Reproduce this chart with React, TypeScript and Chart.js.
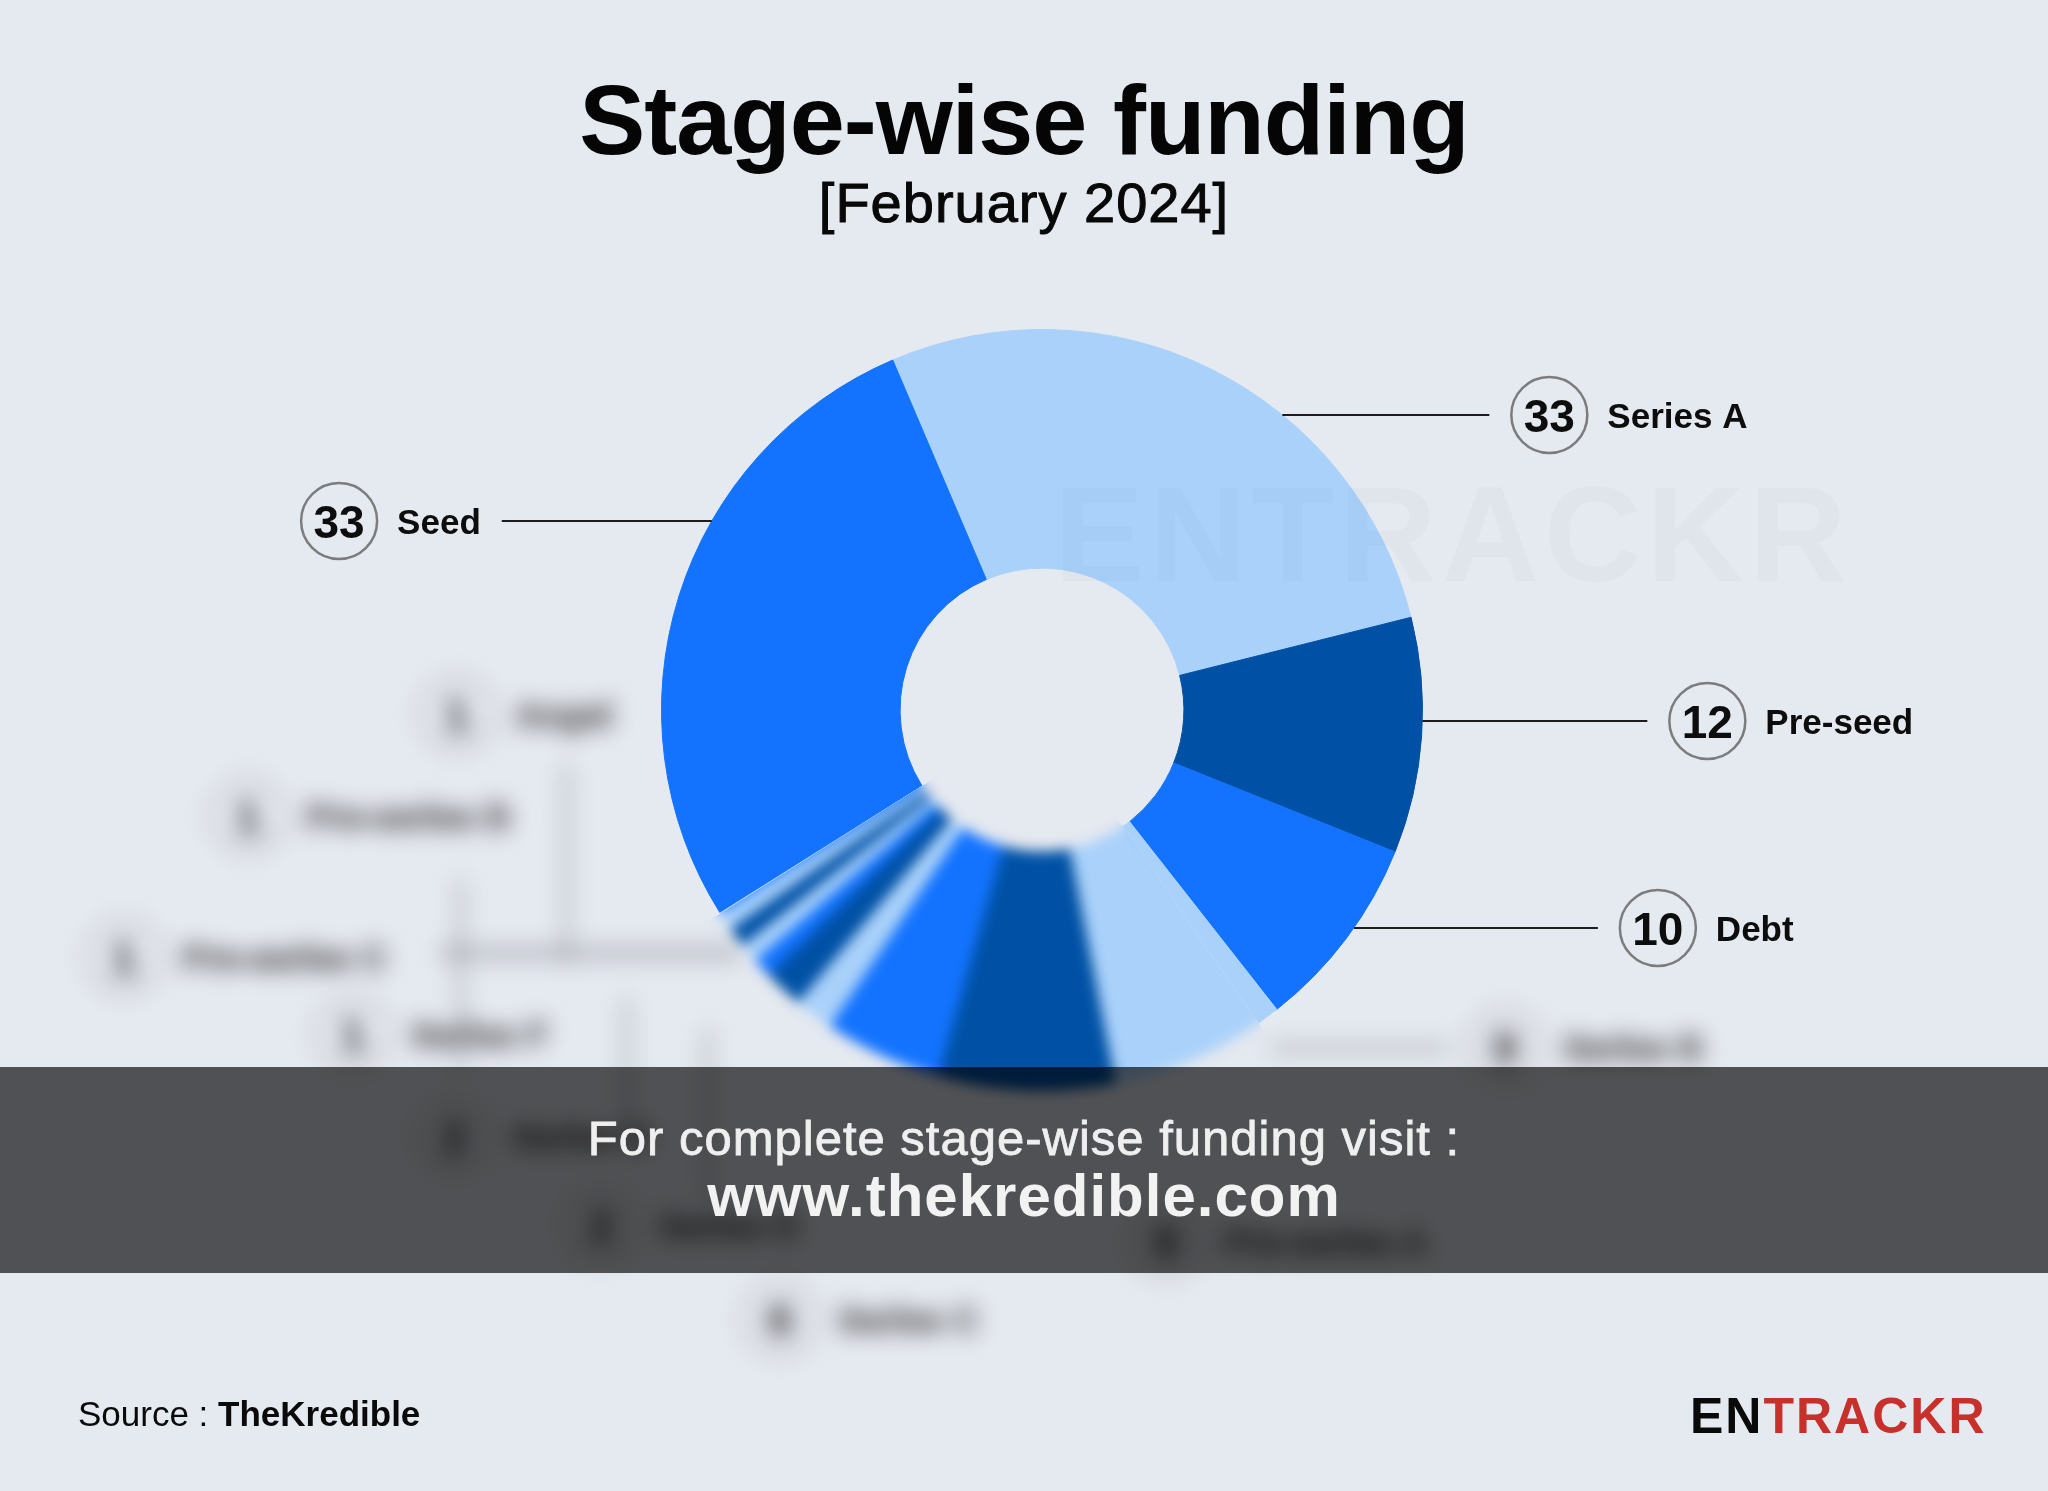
import React, { useEffect, useRef } from "react";
import { Chart, registerables } from "chart.js";

Chart.register(...registerables);

// ---------------- data ----------------
const stageNames = [
  "Series A",
  "Pre-seed",
  "Debt",
  "Series B",
  "Pre-series A",
  "Series C",
  "Series D",
  "Series E",
  "Series F",
  "Pre-series C",
  "Pre-series B",
  "Angel",
  "Seed",
];
const dealCounts = [33, 12, 10, 9, 9, 6, 2, 2, 1, 1, 1, 1, 33];
const calloutStages = ["Series A", "Pre-seed", "Debt", "Seed"];
const titleText = "Stage-wise funding";
const subtitleText = "[February 2024]";
const bandLine1 = "For complete stage-wise funding visit :";
const bandLine2 = "www.thekredible.com";
const sourceLabel = "Source : ";
const sourceName = "TheKredible";

// ---------------- styles / layout ----------------
const BG = "#e5e9f0";
const LIGHT = "#a9d1fa";
const DARK = "#0051a5";
const BLUE = "#1373fe";
const sliceColors = [LIGHT, DARK, BLUE, LIGHT, DARK, BLUE, LIGHT, DARK, BLUE, LIGHT, DARK, LIGHT, BLUE];
const FONT = '"Liberation Sans", Arial, Helvetica, sans-serif';

const calloutLayout = [
  { side: 1, lineY: 415, lineLength: 207 },
  { side: 1, lineY: 721, lineLength: 225 },
  { side: 1, lineY: 928, lineLength: 244 },
  { side: -1, lineY: 521, lineLength: 210 },
];

// blurred background labels (for the small slices, indices 3..11)
const blurredLayout = [
  { x: 1505, y: 1047 },
  { x: 1166, y: 1241 },
  { x: 780, y: 1319 },
  { x: 601, y: 1225 },
  { x: 454, y: 1136 },
  { x: 353, y: 1034 },
  { x: 124, y: 957 },
  { x: 248, y: 816 },
  { x: 457, y: 714 },
];
const blurredLines = [
  { x: 562, y: 765, w: 9, h: 200 },
  { x: 456, y: 880, w: 9, h: 190 },
  { x: 440, y: 945, w: 300, h: 16 },
  { x: 622, y: 1000, w: 9, h: 140 },
  { x: 703, y: 1030, w: 9, h: 170 },
  { x: 1270, y: 1043, w: 180, h: 10 },
];

const blurFrom = 3;
const blurTo = 11;

const blurPlugin = {
  id: "lowerBlur",
  afterDatasetsDraw(chart: any) {
    const arcs = chart.getDatasetMeta(0).data as any[];
    if (!arcs.length) return;
    const first = arcs[blurFrom];
    const last = arcs[blurTo];
    const cx = first.x;
    const cy = first.y;
    const R = first.outerRadius;
    const off = document.createElement("canvas");
    off.width = chart.canvas.width;
    off.height = chart.canvas.height;
    const octx = off.getContext("2d") as CanvasRenderingContext2D;
    arcs.forEach((a) => a.draw(octx));
    const ctx = chart.ctx as CanvasRenderingContext2D;
    ctx.save();
    ctx.setTransform(1, 0, 0, 1, 0, 0);
    ctx.beginPath();
    ctx.moveTo(cx, cy);
    ctx.arc(cx, cy, R + 80, first.startAngle + 0.06, last.endAngle - 0.004);
    ctx.closePath();
    ctx.clip();
    ctx.clearRect(0, 0, off.width, off.height);
    ctx.filter = "blur(6.5px)";
    ctx.drawImage(off, 0, 0);
    ctx.restore();
  },
};

const calloutPlugin = {
  id: "callouts",
  afterDraw(chart: any) {
    const ctx = chart.ctx as CanvasRenderingContext2D;
    const arcs = chart.getDatasetMeta(0).data as any[];
    calloutStages.forEach((stage, k) => {
      const c = calloutLayout[k];
      const i = stageNames.indexOf(stage);
      const arc = arcs[i];
      const R = arc.outerRadius;
      const dy = c.lineY - arc.y;
      const x0 = arc.x + c.side * Math.sqrt(Math.max(R * R - dy * dy, 0));
      const x1 = x0 + c.side * c.lineLength;
      ctx.save();
      ctx.strokeStyle = "#1c1c1c";
      ctx.lineWidth = 2;
      ctx.beginPath();
      ctx.moveTo(x0, c.lineY);
      ctx.lineTo(x1, c.lineY);
      ctx.stroke();
      ctx.font = "bold 35px " + FONT;
      const labelW = ctx.measureText(stage).width;
      let circleX: number;
      let textX: number;
      if (c.side > 0) {
        circleX = x1 + 60;
        textX = circleX + 58;
      } else {
        textX = x1 - 21 - labelW;
        circleX = textX - 58;
      }
      ctx.beginPath();
      ctx.arc(circleX, c.lineY, 38, 0, Math.PI * 2);
      ctx.strokeStyle = "#7c7c7c";
      ctx.lineWidth = 2.5;
      ctx.stroke();
      ctx.fillStyle = "#0d0d0d";
      ctx.textAlign = "left";
      ctx.textBaseline = "alphabetic";
      ctx.fillText(stage, textX, c.lineY + 12.5);
      ctx.font = "bold 46px " + FONT;
      ctx.textAlign = "center";
      ctx.fillText(String(dealCounts[i]), circleX, c.lineY + 16.5);
      ctx.restore();
    });
  },
};

function textTop(baseline: number, size: number) {
  return baseline - 0.8465 * size;
}

export default function App() {
  const ref = useRef<HTMLCanvasElement>(null);

  useEffect(() => {
    document.body.style.margin = "0";
    document.body.style.overflow = "hidden";
    const canvas = ref.current as HTMLCanvasElement;
    const chart = new Chart(canvas, {
      type: "doughnut",
      data: {
        labels: stageNames,
        datasets: [
          {
            data: dealCounts,
            backgroundColor: sliceColors,
            borderColor: sliceColors,
            borderWidth: 1,
            hoverOffset: 0,
            offset: 0,
          } as any,
        ],
      },
      options: {
        responsive: false,
        animation: false,
        devicePixelRatio: 1,
        rotation: -23.1,
        cutout: "37.3%",
        events: [],
        layout: { padding: { left: 661, right: 625, top: 329, bottom: 400 } },
        plugins: { legend: { display: false }, tooltip: { enabled: false } },
      } as any,
      plugins: [blurPlugin, calloutPlugin],
    });
    return () => chart.destroy();
  }, []);

  const abs: React.CSSProperties = { position: "absolute", whiteSpace: "nowrap" };

  return (
    <div
      style={{
        position: "relative",
        width: 2048,
        height: 1491,
        background: BG,
        overflow: "hidden",
        fontFamily: FONT,
      }}
    >
      <div
        style={{
          ...abs,
          left: 0,
          width: 2048,
          top: textTop(153.5, 99),
          textAlign: "center",
          fontSize: 99,
          lineHeight: "99px",
          fontWeight: 700,
          letterSpacing: -1,
          color: "#050505",
        }}
      >
        {titleText}
      </div>
      <div
        style={{
          ...abs,
          left: 0,
          width: 2048,
          top: textTop(222, 56),
          textAlign: "center",
          fontSize: 56,
          lineHeight: "56px",
          letterSpacing: 1,
          color: "#080808",
          WebkitTextStroke: "1px #080808",
        }}
      >
        {subtitleText}
      </div>

      {/* blurred background labels */}
      <div style={{ position: "absolute", left: 0, top: 0, width: 2048, height: 1491, filter: "blur(11px)" }}>
        {blurredLines.map((l, k) => (
          <div
            key={"l" + k}
            style={{ position: "absolute", left: l.x, top: l.y, width: l.w, height: l.h, background: "rgba(150,152,160,0.5)" }}
          />
        ))}
        {blurredLayout.map((p, k) => {
          const i = blurFrom + k;
          return (
            <React.Fragment key={"b" + k}>
              <div
                style={{
                  position: "absolute",
                  left: p.x - 38,
                  top: p.y - 38,
                  width: 76,
                  height: 76,
                  borderRadius: "50%",
                  border: "3px solid #a8a8ac",
                  boxSizing: "border-box",
                }}
              />
              <div
                style={{
                  ...abs,
                  left: p.x - 40,
                  width: 80,
                  textAlign: "center",
                  top: textTop(p.y + 16.5, 46),
                  fontSize: 46,
                  lineHeight: "46px",
                  fontWeight: 700,
                  color: "#6a6a6e",
                  WebkitTextStroke: "3px #6a6a6e",
                }}
              >
                {dealCounts[i]}
              </div>
              <div
                style={{
                  ...abs,
                  left: p.x + 58,
                  top: textTop(p.y + 12.5, 35),
                  fontSize: 35,
                  lineHeight: "35px",
                  fontWeight: 700,
                  color: "#7a7a7e",
                  WebkitTextStroke: "3px #7a7a7e",
                }}
              >
                {stageNames[i]}
              </div>
            </React.Fragment>
          );
        })}
      </div>

      <canvas
        ref={ref}
        width={2048}
        height={1491}
        style={{ position: "absolute", left: 0, top: 0, width: 2048, height: 1491 }}
      />

      {/* watermark */}
      <div
        style={{
          ...abs,
          left: 1054,
          top: textTop(581.7, 135),
          fontSize: 135,
          lineHeight: "135px",
          fontWeight: 700,
          letterSpacing: 5,
          color: "rgba(40,45,60,0.022)",
        }}
      >
        ENTRACKR
      </div>

      {/* band */}
      <div style={{ position: "absolute", left: 0, top: 1067, width: 2048, height: 206, background: "rgba(0,0,0,0.65)" }} />
      <div
        style={{
          ...abs,
          left: 0,
          width: 2048,
          top: textTop(1155, 49),
          textAlign: "center",
          fontSize: 49,
          lineHeight: "49px",
          letterSpacing: 1,
          color: "#efefef",
          WebkitTextStroke: "0.8px #efefef",
        }}
      >
        {bandLine1}
      </div>
      <div
        style={{
          ...abs,
          left: 0,
          width: 2048,
          top: textTop(1217, 60),
          textAlign: "center",
          fontSize: 60,
          lineHeight: "60px",
          fontWeight: 700,
          letterSpacing: 1,
          color: "#f2f2f2",
        }}
      >
        {bandLine2}
      </div>

      {/* footer */}
      <div style={{ ...abs, left: 78, top: textTop(1426, 35), fontSize: 35, lineHeight: "35px", color: "#0a0a0a" }}>
        {sourceLabel}
        <span style={{ fontWeight: 700 }}>{sourceName}</span>
      </div>
      <div
        style={{
          ...abs,
          left: 1690,
          top: textTop(1433.3, 50),
          fontSize: 50,
          lineHeight: "50px",
          fontWeight: 700,
          letterSpacing: 2,
        }}
      >
        <span style={{ color: "#0a0a0a" }}>EN</span>
        <span style={{ color: "#c8302c" }}>TRACKR</span>
      </div>
    </div>
  );
}
